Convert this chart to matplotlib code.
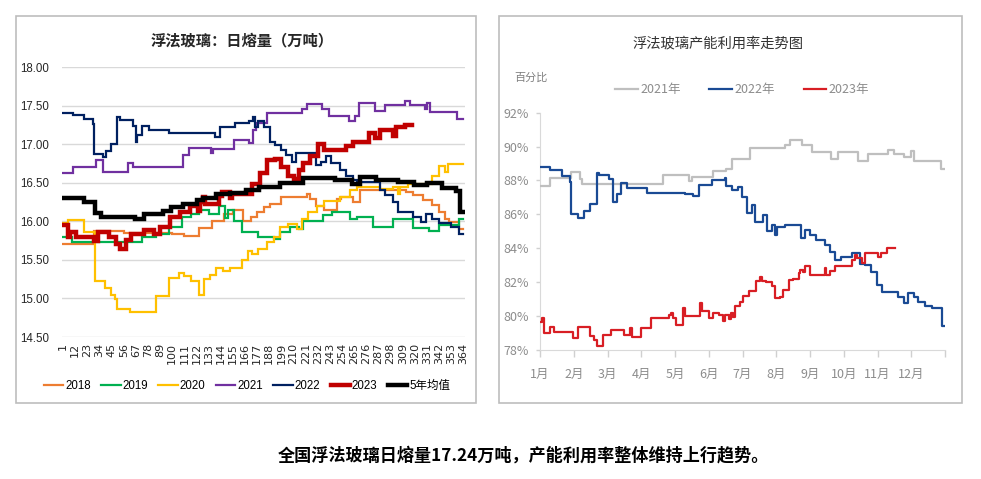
import matplotlib
matplotlib.use('Agg')
import matplotlib.pyplot as plt
from matplotlib.patches import Rectangle

plt.rcParams['font.family'] = ['Liberation Sans', 'Noto Sans CJK SC', 'DejaVu Sans']
CJK = ['Noto Sans CJK SC', 'DejaVu Sans']

# ---------------- left chart: daily melting volume (10k t), (day, value) breakpoints
s2018 = [(1,15.71),(29,15.87),(56,15.85),(100,15.83),(111,15.81),(124,15.91),(136,16.0),(147,16.09),
         (155,16.15),(164,16.0),(171,16.06),(177,16.12),(183,16.19),(189,16.23),(199,16.31),(222,16.35),
         (225,16.29),(230,16.2),(238,16.14),(249,16.29),(253,16.31),(264,16.25),(270,16.4),(312,16.38),
         (318,16.34),(327,16.27),(336,16.21),(342,16.12),(347,16.03),(351,15.99),(360,15.9),(364,15.9)]
s2019 = [(1,15.8),(9,15.73),(73,15.8),(85,15.83),(97,15.93),(109,16.05),(117,16.1),(124,16.14),(133,16.1),
         (142,16.2),(148,16.04),(151,16.14),(156,16.01),(163,15.86),(178,15.8),(192,15.77),(198,15.86),
         (207,15.93),(215,15.9),(219,16.0),(237,16.08),(245,16.12),(261,16.03),(268,16.06),(282,15.93),
         (300,16.03),(318,15.91),(333,15.88),(342,15.95),(360,16.03),(364,16.03)]
s2020 = [(1,15.98),(5,16.02),(20,15.86),(30,15.22),(39,15.14),(44,15.05),(48,14.99),(50,14.86),(62,14.83),
         (72,14.82),(85,15.03),(97,15.27),(106,15.33),(111,15.29),(117,15.22),(124,15.04),(129,15.25),
         (134,15.31),(140,15.39),(146,15.36),(152,15.4),(163,15.5),(169,15.62),(172,15.57),(178,15.64),
         (186,15.73),(192,15.8),(198,15.93),(205,15.97),(213,15.9),(218,16.03),(223,16.12),(231,16.2),
         (238,16.26),(252,16.31),(261,16.4),(268,16.44),(288,16.42),(300,16.45),(305,16.35),(307,16.45),
         (314,16.48),(336,16.59),(342,16.72),(347,16.64),(350,16.74),(364,16.74)]
s2021 = [(1,16.62),(10,16.71),(31,16.79),(37,16.64),(60,16.76),(64,16.7),(110,16.86),(115,16.95),
         (135,16.88),(137,16.94),(156,17.05),(170,17.02),(173,17.18),(176,17.28),(186,17.41),(218,17.46),
         (222,17.52),(236,17.46),(242,17.37),(260,17.3),(266,17.37),(269,17.53),(284,17.43),(293,17.51),
         (311,17.56),(316,17.51),(329,17.46),(331,17.53),(334,17.42),(358,17.33),(364,17.33)]
s2022 = [(1,17.41),(10,17.38),(20,17.32),(28,17.26),(29,16.87),(37,16.83),(40,16.91),(44,17.0),(50,17.35),
         (53,17.31),(64,17.24),(67,17.03),(68,17.12),(73,17.24),(79,17.18),(97,17.14),(139,17.09),
         (143,17.22),(157,17.28),(170,17.3),(173,17.35),(175,17.22),(178,17.3),(183,17.22),(189,17.03),
         (193,16.99),(199,16.92),(203,16.86),(209,16.77),(212,16.88),(230,16.73),(235,16.77),(239,16.84),
         (244,16.75),(252,16.67),(258,16.59),(264,16.53),(268,16.51),(288,16.4),(293,16.34),(300,16.25),
         (305,16.12),(318,16.06),(326,15.99),(330,16.1),(336,16.03),(342,15.98),(353,15.93),(360,15.83),
         (364,15.83)]
s2023 = [(1,15.95),(5,15.79),(7,15.86),(13,15.8),(29,15.74),(33,15.86),(43,15.79),(49,15.7),(53,15.64),
         (58,15.76),(63,15.84),(74,15.89),(83,15.84),(89,15.93),(98,16.05),(107,16.12),(116,16.2),
         (123,16.13),(125,16.25),(128,16.31),(130,16.23),(142,16.33),(145,16.38),(152,16.3),(154,16.36),
         (172,16.48),(180,16.62),(186,16.79),(193,16.81),(199,16.7),(205,16.59),(210,16.55),(215,16.66),
         (219,16.75),(225,16.85),(232,17.0),(238,16.93),(252,16.92),(258,16.98),(264,17.03),(278,17.14),
         (284,17.08),(288,17.18),(300,17.11),(303,17.22),(311,17.25),(317,17.25)]
s5yr = [(1,16.3),(20,16.25),(30,16.11),(35,16.06),(66,16.03),(74,16.09),(92,16.13),(99,16.19),(110,16.23),
        (122,16.27),(128,16.3),(140,16.35),(152,16.37),(167,16.41),(179,16.44),(198,16.5),(219,16.56),
        (248,16.54),(263,16.48),(270,16.58),(285,16.53),(305,16.51),(319,16.47),(331,16.49),(345,16.43),
        (357,16.39),(361,16.12),(364,16.12)]

left_series = [('2018', s2018, '#ED7D31', 1.6), ('2019', s2019, '#00B050', 1.6),
               ('2020', s2020, '#FFC000', 1.6), ('2021', s2021, '#7030A0', 1.6),
               ('2022', s2022, '#002060', 1.6), ('2023', s2023, '#C00000', 3.2),
               ('5年均值', s5yr, '#000000', 3.2)]
left_xticks = list(range(1, 365, 11))
left_yticks = [14.5, 15.0, 15.5, 16.0, 16.5, 17.0, 17.5, 18.0]

# ---------------- right chart: capacity utilisation (%), (day-of-year, value) breakpoints
u2021 = [(0,87.65),(9,88.15),(28,88.48),(36,88.1),(38,87.8),(111,88.3),(134,87.95),(137,88.2),(156,88.57),
         (168,88.68),(173,89.24),(189,89.9),(221,90.1),(225,90.4),(236,90.07),(245,89.68),(262,89.25),
         (269,89.7),(287,89.15),(296,89.54),(314,89.8),(319,89.54),(328,89.36),(334,89.75),(337,89.14),
         (361,88.68),(365,88.68)]
u2022 = [(0,88.78),(9,88.64),(20,88.25),(27,87.9),(28,86.0),(34,85.77),(40,86.2),(45,86.64),(51,88.45),
         (53,88.3),(62,88.1),(66,86.74),(69,87.22),(73,87.86),(78,87.55),(96,87.28),(131,87.22),(138,87.1),
         (143,87.75),(155,88.0),(167,88.14),(168,87.67),(173,87.42),(178,87.6),(182,87.03),(187,86.06),
         (191,86.54),(194,85.57),(201,85.96),(205,85.03),(209,85.38),(212,84.8),(214,85.28),(221,85.38),
         (235,84.6),(239,85.1),(243,84.8),(249,84.5),(257,84.2),(261,83.8),(266,83.3),(271,83.5),(281,83.7),
         (288,83.1),(293,83.0),(298,82.6),(304,81.85),(308,81.45),(323,81.15),(328,80.76),(332,81.35),
         (337,81.15),(341,80.86),(347,80.6),(353,80.47),(362,79.42),(365,79.42)]
u2023 = [(0,79.68),(2,79.87),(4,78.98),(9,79.38),(13,79.06),(30,78.7),(34,79.38),(45,78.8),(49,78.6),
         (51,78.23),(57,78.9),(64,79.18),(76,78.9),(81,79.3),(83,78.75),(91,79.28),(100,79.87),(116,80.07),
         (118,80.17),(120,79.9),(123,79.48),(129,80.47),(131,80.0),(144,80.76),(146,80.3),(152,79.87),
         (156,80.2),(161,80.07),(165,79.74),(167,80.07),(170,79.8),(172,80.17),(174,79.95),(176,80.6),
         (180,80.86),(183,81.16),(188,81.5),(195,82.05),(198,82.3),(200,82.1),(204,82.0),(209,81.8),
         (212,81.06),(216,81.15),(219,81.55),(224,82.15),(228,82.2),(233,82.54),(234,82.74),(237,82.58),
         (239,82.94),(243,82.44),(257,82.84),(258,82.4),(261,82.64),(266,82.94),(281,83.33),(284,83.63),
         (286,83.43),(290,83.13),(293,83.73),(305,83.5),(307,83.73),(313,84.02),(320,84.02)]

right_series = [('2021年', u2021, '#BFBFBF'), ('2022年', u2022, '#1A4A94'), ('2023年', u2023, '#D81E24')]
months = ['1月', '2月', '3月', '4月', '5月', '6月', '7月', '8月', '9月', '10月', '11月', '12月']
right_yticks = [78, 80, 82, 84, 86, 88, 90, 92]

# ---------------- figure
W, H = 981, 479
fig = plt.figure(figsize=(W / 100, H / 100), dpi=100)
fig.patch.set_facecolor('white')
fx = lambda px: px / W
fy = lambda py: 1 - py / H

for (x0, y0, x1, y1) in [(16, 16, 476, 403), (499, 16, 962, 403)]:
    fig.add_artist(Rectangle((fx(x0), fy(y1)), fx(x1) - fx(x0), fy(y0) - fy(y1),
                             transform=fig.transFigure, fill=False, edgecolor='#BDBDBD', lw=1.2))

# ---- left axes
axL = fig.add_axes([fx(62), fy(337), fx(465) - fx(62), fy(67) - fy(337)])
for i, (name, pairs, col, lw) in enumerate(left_series):
    d = [p[0] for p in pairs]
    v = [p[1] for p in pairs]
    axL.plot(d, v, drawstyle='steps-post', color=col, lw=lw, label=name,
             solid_joinstyle='miter', zorder=3 + i)
axL.set_xlim(0, 365.5)
axL.set_ylim(14.5, 18.0)
axL.set_yticks(left_yticks)
axL.set_yticklabels([f'{t:.2f}' for t in left_yticks])
axL.set_xticks(left_xticks)
axL.set_xticklabels([str(t) for t in left_xticks], rotation=90, fontsize=8,
                    family=['DejaVu Sans'])
axL.tick_params(axis='y', length=0, pad=9, labelsize=8.3, labelcolor='#262626')
axL.tick_params(axis='x', length=0, pad=4, labelcolor='#262626')
axL.grid(axis='y', color='#D9D9D9', lw=1)
axL.set_axisbelow(True)
for s in axL.spines.values():
    s.set_visible(False)
legL = axL.legend(loc='center', bbox_to_anchor=(fx(247), fy(386)),
                  bbox_transform=fig.transFigure, ncol=7, frameon=False,
                  fontsize=8.3, handlelength=1.7, handletextpad=0.15, columnspacing=0.9,
                  borderpad=0, borderaxespad=0)
fig.text(fx(242), fy(40), '浮法玻璃：日熔量（万吨）', ha='center', va='center',
         fontsize=11, fontweight='bold', color='#262626', family=CJK)

# ---- right axes
axR = fig.add_axes([fx(540), fy(350), fx(945) - fx(540), fy(112.7) - fy(350)])
for i, (name, pairs, col) in enumerate(right_series):
    d = [p[0] for p in pairs]
    v = [p[1] for p in pairs]
    axR.plot(d, v, drawstyle='steps-post', color=col, lw=1.6, label=name, zorder=3 + i)
axR.set_xlim(0, 365)
axR.set_ylim(78, 92)
axR.set_yticks(right_yticks)
axR.set_yticklabels([f'{t}%' for t in right_yticks])
mticks = [i * 365 / 12 for i in range(13)]
axR.set_xticks(mticks)
axR.set_xticklabels(months + [''], family=CJK)
axR.tick_params(axis='y', length=3, width=1, color='#D0D0D0', pad=5,
                labelsize=9, labelcolor='#8C8C8C')
axR.tick_params(axis='x', length=5, width=1, color='#D0D0D0', pad=8,
                labelsize=9, labelcolor='#8C8C8C')
for lab in axR.get_yticklabels():
    lab.set_family(CJK)
axR.spines['top'].set_visible(False)
axR.spines['right'].set_visible(False)
axR.spines['left'].set_color('#D9D9D9')
axR.spines['bottom'].set_color('#D9D9D9')
legR = axR.legend(loc='center', bbox_to_anchor=(fx(742), fy(90)),
                  bbox_transform=fig.transFigure, ncol=3, frameon=False,
                  prop={'family': CJK, 'size': 9}, handlelength=1.8, handletextpad=0.2,
                  columnspacing=2.3, borderpad=0, borderaxespad=0)
for t in legR.get_texts():
    t.set_color('#8C8C8C')
fig.text(fx(718), fy(43), '浮法玻璃产能利用率走势图', ha='center', va='center',
         fontsize=10.3, color='#333333', family=CJK)
fig.text(fx(531), fy(78), '百分比', ha='center', va='center',
         fontsize=8, color='#808080', family=CJK)

# ---- caption
fig.text(fx(523), fy(455), '全国浮法玻璃日熔量17.24万吨，产能利用率整体维持上行趋势。',
         ha='center', va='center', fontsize=12.3, fontweight='bold', color='black', family=CJK)

fig.savefig('out.png', dpi=100, facecolor='white')
